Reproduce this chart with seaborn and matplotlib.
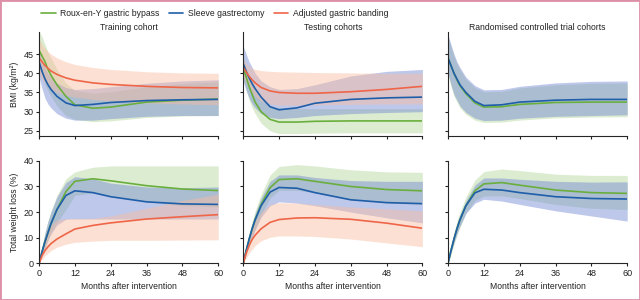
import matplotlib
matplotlib.use("Agg")
import matplotlib.pyplot as plt
from matplotlib.lines import Line2D
from matplotlib.patches import Rectangle
import pandas as pd
import seaborn as sns

months = [0, 1, 2, 3, 4, 6, 9, 12, 18, 24, 36, 48, 60]

procedures = ["Roux-en-Y gastric bypass", "Sleeve gastrectomy", "Adjusted gastric banding"]
line_colors = ["#6aaf3d", "#1f5ea8", "#ef6548"]
band_colors = ["#b3d699", "#6f85d3", "#fabc9f"]

panel_titles = ["Training cohort", "Testing cohorts", "Randomised controlled trial cohorts"]

# BMI, training cohort: (mean, lower, upper) per procedure
train_bmi = {
    "Roux-en-Y gastric bypass": (
        [46, 44.5, 43, 41, 39.5, 37, 34, 31.8, 30.9, 31.2, 32.5, 33, 33.3],
        [41.5, 39, 37, 35.5, 34, 31.5, 29, 28, 27.4, 27.6, 28.5, 28.9, 29],
        [51, 49.5, 47.5, 45.5, 44, 41, 37.5, 35.5, 34.8, 35.2, 36.5, 37.3, 37.8]),
    "Sleeve gastrectomy": (
        [43, 40.5, 38.5, 37, 35.8, 34, 32.3, 31.6, 31.9, 32.4, 32.9, 33.1, 33.2],
        [39, 36, 33.5, 32, 31, 29.5, 28.3, 27.8, 27.8, 28.2, 28.8, 29, 29],
        [46, 43.5, 41.5, 40, 39, 37.5, 36.3, 35.8, 36, 36.5, 37.4, 38, 38.3]),
    "Adjusted gastric banding": (
        [44, 43, 42, 41.3, 40.6, 39.7, 38.8, 38.2, 37.5, 37.1, 36.6, 36.3, 36.2],
        [40, 38.5, 37.5, 36.8, 36, 35, 34.3, 33.8, 33.2, 32.8, 32.3, 32, 31.8],
        [49, 47.5, 46.5, 45.7, 45, 44, 43, 42.3, 41.5, 41, 40.4, 40.1, 40]),
}

train_twl = {
    "Roux-en-Y gastric bypass": (
        [0, 4.5, 8.5, 12, 15.5, 21, 28, 32, 33, 32.2, 30.3, 29, 28.4],
        [0, 3, 6, 9, 12, 16, 21, 26.5, 27.5, 26.5, 24, 22.5, 22],
        [0, 6.5, 12, 16.5, 20.5, 26.5, 33, 35.7, 37.5, 38, 38, 38, 38]),
    "Sleeve gastrectomy": (
        [0, 4.5, 8.5, 12, 15.5, 21, 26.5, 28.3, 27.6, 26, 24, 23.2, 23],
        [0, 3, 6, 9, 11.5, 15, 17.2, 17.3, 17.3, 17.3, 17.3, 17.3, 17.3],
        [0, 6.5, 12, 16.5, 20, 26, 31.5, 33.8, 33, 31.3, 29.8, 29.5, 29.8]),
    "Adjusted gastric banding": (
        [0, 3, 5, 6.5, 7.7, 9.5, 11.5, 13.4, 14.8, 15.8, 17.3, 18.2, 19],
        [0, 1.5, 3, 4, 5, 6.3, 7.5, 8.2, 8.7, 9, 9, 9.1, 9.2],
        [0, 6, 10, 13, 15, 17, 17.4, 17.5, 17.6, 18.5, 21.5, 24.5, 27]),
}

test_bmi = {
    "Roux-en-Y gastric bypass": (
        [41.5, 39, 36.5, 34.5, 32.5, 30, 28, 27.3, 27.3, 27.5, 27.6, 27.6, 27.6],
        [38.5, 35.5, 33, 31, 29.5, 27, 25, 24.3, 24.3, 24.4, 24.5, 24.5, 24.5],
        [44, 41.5, 39, 37, 35.5, 33, 31.5, 31, 30.8, 30.8, 30.8, 30.8, 30.8]),
    "Sleeve gastrectomy": (
        [42.5, 40.5, 38.8, 37.3, 36, 33.8, 31.3, 30.5, 31, 32.2, 33.2, 33.6, 33.8],
        [38, 35.5, 33.5, 32, 31, 29.5, 28.5, 28.2, 28.5, 29, 29.5, 29.8, 30],
        [47, 45, 43, 41.5, 40, 38, 36.5, 35.8, 36, 37, 39.3, 40.5, 41]),
    "Adjusted gastric banding": (
        [41.5, 40.3, 39.2, 38.3, 37.5, 36.3, 35.4, 35, 34.8, 34.8, 35.2, 35.8, 36.6],
        [39, 37.5, 36, 35, 34, 32.8, 32, 31.7, 31.7, 31.8, 31.9, 32, 32],
        [43.5, 42.5, 41.8, 41.3, 41, 40.7, 40.5, 40.4, 40.3, 40.2, 40.1, 40, 40]),
}

test_twl = {
    "Roux-en-Y gastric bypass": (
        [0, 5, 9.5, 13.5, 17, 23, 29.5, 32.7, 33, 32, 30, 28.8, 28.3],
        [0, 3.5, 7, 10.5, 13.5, 19, 25.5, 28.5, 28.5, 27.5, 25, 23.5, 23],
        [0, 6.5, 12, 16.5, 20.5, 27, 34.5, 37.8, 38.5, 38, 36.5, 35.7, 35.5]),
    "Sleeve gastrectomy": (
        [0, 5, 9.5, 13.5, 17, 22.5, 27.8, 29.6, 29.3, 27.6, 24.8, 23.7, 23.3],
        [0, 3.5, 7, 10, 13, 18, 22.5, 24, 23.5, 22.5, 20, 17.8, 15.8],
        [0, 6, 11, 15.5, 19.5, 25.5, 32, 34.5, 34.5, 33.5, 32.3, 32, 32]),
    "Adjusted gastric banding": (
        [0, 4, 7, 9.3, 11, 13.5, 16, 17.1, 17.7, 17.8, 17.2, 15.7, 13.7],
        [0, 2, 4, 5.5, 7, 8.8, 10.2, 10.7, 10.7, 10.5, 9.5, 8, 6.5],
        [0, 6, 10.5, 14, 16.5, 20, 23, 23.7, 23.5, 23, 22, 21.3, 20.5]),
}

# RCT cohorts only compared bypass and sleeve
rct_bmi = {
    "Roux-en-Y gastric bypass": (
        [44, 42, 40, 38.3, 36.8, 34.7, 32.3, 31.2, 31.3, 31.9, 32.4, 32.5, 32.5],
        [39.5, 36.5, 34, 32.5, 31, 29.3, 27.8, 27.2, 27.3, 27.8, 28.4, 28.6, 28.7],
        [49.5, 47, 44.5, 42.5, 41, 38.5, 36.3, 35.2, 35.3, 36.2, 37, 37.4, 37.5]),
    "Sleeve gastrectomy": (
        [44, 42, 40, 38.5, 37, 35, 32.7, 31.6, 31.8, 32.5, 33, 33.2, 33.2],
        [40, 37, 34.5, 33, 31.5, 29.8, 28.3, 27.7, 27.8, 28.3, 28.8, 29, 29.2],
        [50, 47.5, 45, 43, 41.5, 39, 36.8, 35.7, 35.8, 36.6, 37.5, 37.9, 38]),
}

rct_twl = {
    "Roux-en-Y gastric bypass": (
        [0, 5, 9.5, 13.5, 17, 22.5, 28.3, 31, 31.5, 30.5, 28.6, 27.6, 27.3],
        [0, 3.5, 7.5, 11, 14, 19.5, 24.5, 26.3, 26.3, 25.3, 23, 21.5, 21],
        [0, 6.5, 12, 16.5, 20, 26, 32.5, 35.8, 36.8, 36.2, 34.8, 34.3, 34.3]),
    "Sleeve gastrectomy": (
        [0, 5, 9.5, 13.5, 17, 22.5, 27.5, 28.9, 28.6, 27.6, 26, 25.3, 25.1],
        [0, 4, 8, 11.5, 14.5, 19.5, 23.5, 25, 24.3, 23, 20.5, 18.5, 16.5],
        [0, 6, 11, 15.5, 19, 24.5, 30.5, 33.3, 33.3, 32.8, 32, 31.7, 31.8]),
}

sns.set_theme(style="ticks")
plt.rcParams["font.family"] = ["Liberation Sans", "DejaVu Sans"]
plt.rcParams["axes.linewidth"] = 0.8
plt.rcParams["xtick.major.size"] = 2.5
plt.rcParams["ytick.major.size"] = 2.5
plt.rcParams["xtick.major.width"] = 0.8
plt.rcParams["ytick.major.width"] = 0.8

FS = 6.2
TXT = "#222222"
palette = dict(zip(procedures, line_colors))
fills = dict(zip(procedures, band_colors))


def draw_panel(ax, curves):
    rows = []
    for proc, (mean, lo, hi) in curves.items():
        ax.fill_between(months, lo, hi, color=fills[proc], alpha=0.45, lw=0)
        for m, v in zip(months, mean):
            rows.append({"month": m, "value": v, "procedure": proc})
    df = pd.DataFrame(rows)
    sns.lineplot(data=df, x="month", y="value", hue="procedure", palette=palette,
                 ax=ax, legend=False, errorbar=None, lw=1.2)
    ax.set_xlim(0, 60)
    ax.set_xticks(range(0, 61, 12))
    ax.tick_params(labelsize=6.5, pad=1.5, colors=TXT)
    sns.despine(ax=ax)
    ax.set_xlabel("")
    ax.set_ylabel("")


fig = plt.figure(figsize=(6.4, 3), dpi=100)
lefts = [0.061, 0.380, 0.700]
w = 0.28
top_panels = [train_bmi, test_bmi, rct_bmi]
bottom_panels = [train_twl, test_twl, rct_twl]

for i in range(3):
    ax = fig.add_axes([lefts[i], 0.547, w, 0.347])
    draw_panel(ax, top_panels[i])
    ax.set_ylim(23.7, 50.8)
    ax.set_yticks([25, 30, 35, 40, 45])
    ax.set_xticklabels([])
    ax.set_title(panel_titles[i], fontsize=FS, pad=0.5, color=TXT)
    if i == 0:
        ax.set_ylabel("BMI (kg/m²)", fontsize=FS, labelpad=3, color=TXT)
    else:
        ax.set_yticklabels([])

    ax2 = fig.add_axes([lefts[i], 0.122, w, 0.342])
    draw_panel(ax2, bottom_panels[i])
    ax2.set_ylim(0, 40)
    ax2.set_yticks([0, 10, 20, 30, 40])
    ax2.set_xlabel("Months after intervention", fontsize=FS, labelpad=3, color=TXT)
    if i == 0:
        ax2.set_ylabel("Total weight loss (%)", fontsize=FS, labelpad=3, color=TXT)
    else:
        ax2.set_yticklabels([])

handles = [Line2D([], [], color=c, lw=1.2) for c in line_colors]
fig.legend(handles, procedures, loc="upper left", bbox_to_anchor=(0.052, 0.995),
           ncol=3, frameon=False, fontsize=FS, handlelength=1.7, handletextpad=0.5,
           columnspacing=1.1, labelcolor=TXT)

fig.patches.append(Rectangle((0, 0), 1, 1, transform=fig.transFigure, fill=False,
                             edgecolor="#de8fa8", lw=2))

fig.savefig("out.png", dpi=100)
